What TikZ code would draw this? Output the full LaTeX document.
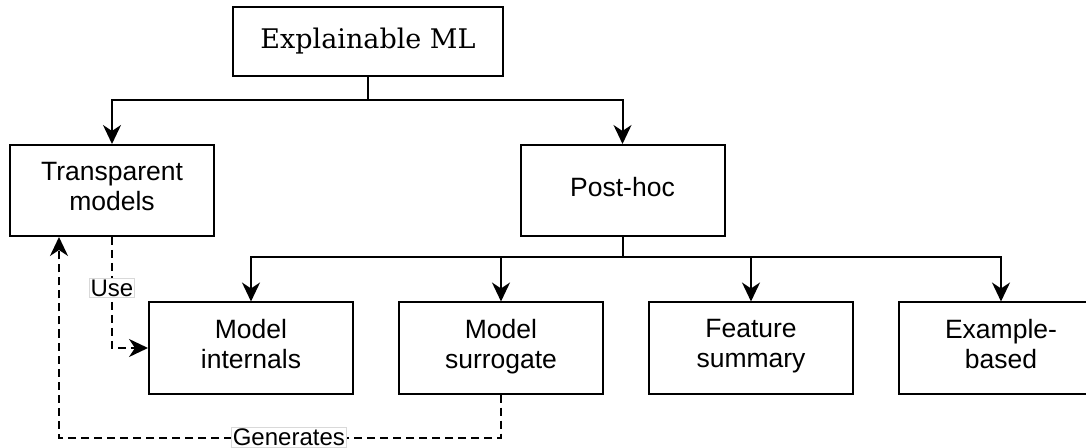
\documentclass[tikz,border=0pt]{standalone}
\usepackage{fontspec}
\setsansfont{Liberation Sans}
\newfontfamily\titlefont{DejaVu Serif}
\usetikzlibrary{arrows.meta, positioning, calc}

\begin{document}
\begin{tikzpicture}[
    x=1pt, y=1pt,
    node distance=22pt,
    line width=1pt,
    box/.style={draw, minimum width=102pt, minimum height=45.5pt, align=center,
      font=\sffamily\fontsize{13.25}{15}\selectfont,
      execute at begin node=\strut, execute at end node=\strut},
    head/.style={draw, minimum width=135pt, minimum height=34.5pt,
      font=\titlefont\fontsize{13.5}{16}\selectfont},
    arr/.style={-{Stealth[length=9.5pt, width=9pt, inset=3pt]}},
    darr/.style={arr, dash pattern=on 4pt off 2.5pt},
    lbl/.style={draw=gray!30, line width=0.4pt, fill=white, inner sep=0.6pt, solid,
      font=\sffamily\fontsize{12}{14}\selectfont}
  ]
    \clip (0,0) rectangle (543,-224);

    \node[head] (ml) at (184,-20.75) {Explainable ML};
    \node[box] (transparent) at (56,-95.25) {Transparent\\models};
    \node[box] (posthoc) at (311.25,-95.25) {Post-hoc};
    \node[box] (internals) at (125.5,-174) {Model\\internals};
    \node[box, right=of internals] (surrogate) {Model\\surrogate};
    \node[box, right=of surrogate] (feature) {Feature\\summary};
    \node[box, right=of feature] (example) {Example-\\based};

    % tree
    \coordinate (split1) at (ml.south |- 0,-50);
    \coordinate (split2) at (posthoc.south |- 0,-128.5);
    \draw (ml.south) -- (split1);
    \draw[arr] (split1) -| (transparent);
    \draw[arr] (split1) -| (posthoc);
    \draw (posthoc.south) -- (split2);
    \foreach \n in {internals, surrogate, feature, example}
      \draw[arr] (split2) -| (\n);

    % dashed links
    \coordinate (back) at ([xshift=25pt]transparent.south west);
    \draw[darr] (transparent.south) |- node[lbl, pos=0.23] {Use} (internals.west);
    \draw[darr] (surrogate.south) -- ++(0,-21.5) -| node[lbl, pos=0.24] {Generates} (back);
  \end{tikzpicture}
\end{document}
